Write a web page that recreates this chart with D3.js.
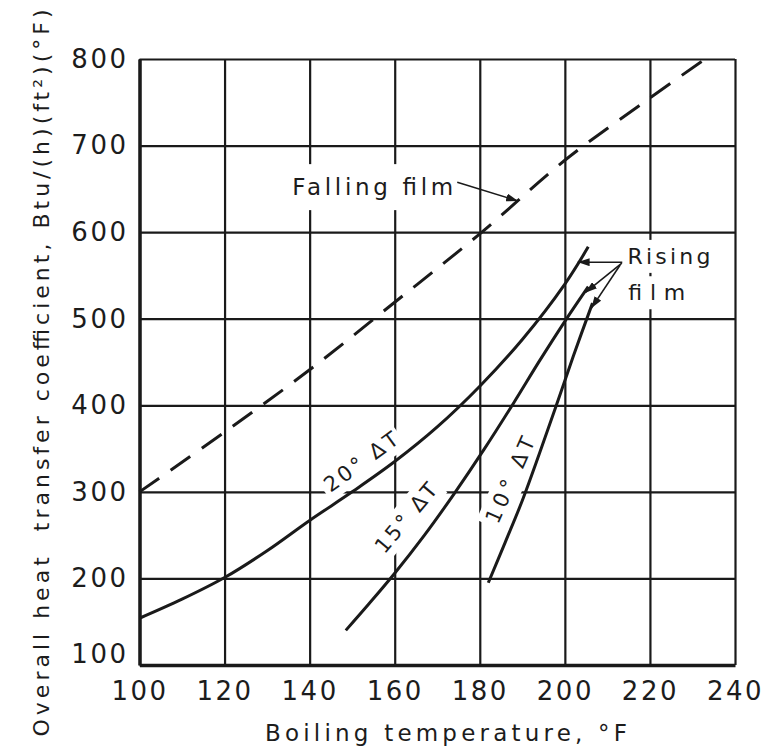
<!DOCTYPE html>
<html><head><meta charset="utf-8">
<script src="https://cdn.jsdelivr.net/npm/d3@7"></script>
<style>
html,body{margin:0;padding:0;background:#fff;}
svg{display:block;}
text{font-family:"DejaVu Sans",sans-serif;fill:#1c1c1c;}
</style></head><body>
<svg id="chart" width="781" height="749"></svg>
<script>
// ---- data ----
const xTicks = [100, 120, 140, 160, 180, 200, 220, 240];
const yTicks = [100, 200, 300, 400, 500, 600, 700, 800];
const fallingTemp = [100, 120, 140, 160, 180, 200, 220, 233];
const fallingCoef = [300, 369, 441, 519, 598, 683, 755, 800];
const dt20Temp = [100, 110, 120, 130, 140, 150, 160, 170, 180, 190, 200, 205.5];
const dt20Coef = [154, 176, 201, 232, 267, 300, 335, 375, 422, 476, 540, 583];
const dt15Temp = [148.5, 154, 160, 167, 174, 181, 188, 194, 200, 205.5];
const dt15Coef = [140, 171, 206, 250, 298, 349, 403, 451, 497, 537];
const dt10Temp = [182, 186, 190, 194, 198, 202, 206.5];
const dt10Coef = [195, 242, 290, 344, 400, 457, 518];
const curveLabels = ["20° ΔT", "15° ΔT", "10° ΔT"];

const svg = d3.select("#chart");
const L = 139.5, R = 735, T = 59, B = 665;
const x = d3.scaleLinear().domain([100, 240]).range([L, R]);
const y = d3.scaleLinear().domain([100, 800]).range([B, T]);
const ink = "#1a1a1a";

// ---- grid + axes ----
const gx = svg.append("g").attr("transform", `translate(0,${B})`)
  .call(d3.axisBottom(x).tickValues(xTicks).tickSizeInner(-(B - T)).tickSizeOuter(0)
    .tickPadding(17).tickFormat(d3.format("d")));
const gy = svg.append("g").attr("transform", `translate(${L},0)`)
  .call(d3.axisLeft(y).tickValues(yTicks).tickSizeInner(-(R - L)).tickSizeOuter(0)
    .tickPadding(11).tickFormat(d3.format("d")));
[gx, gy].forEach(g => {
  g.attr("font-family", "DejaVu Sans, sans-serif").attr("font-size", 26);
  g.selectAll(".tick line").attr("stroke", ink).attr("stroke-width", 2.2);
  g.selectAll(".tick text").attr("fill", "#222").attr("letter-spacing", 2.5);
  g.select(".domain").attr("stroke", ink).attr("stroke-width", 3.5);
});
gy.selectAll(".tick text").filter(d => d === 100).attr("dy", "-0.1em");

// axis titles
svg.append("text").attr("x", 446).attr("y", 741).attr("text-anchor", "middle")
  .attr("font-size", 23).attr("textLength", 362).attr("lengthAdjust", "spacing")
  .text("Boiling temperature, °F");
svg.append("g").attr("transform", "translate(41,373) rotate(-90)")
  .append("text").attr("text-anchor", "middle").attr("dominant-baseline", "central")
  .attr("font-size", 22).attr("textLength", 727).attr("lengthAdjust", "spacing")
  .style("white-space", "pre")
  .text("Overall heat  transfer coefficient, Btu/(h)(ft²)(°F)");

// ---- label helper with white knock-out box (breaks the grid like the original) ----
const knock = svg.append("g");
const labelsG = svg.append("g");
function label(cx, cy, angle, txt, size, len, padX, padY, anchor) {
  const g = labelsG.append("g").attr("transform", `translate(${cx},${cy}) rotate(${angle})`);
  const t = g.append("text").attr("text-anchor", anchor || "middle")
    .attr("dominant-baseline", "central").attr("font-size", size).text(txt);
  if (len) t.attr("textLength", len).attr("lengthAdjust", "spacing");
  const b = t.node().getBBox();
  knock.append("rect").attr("transform", `translate(${cx},${cy}) rotate(${angle})`)
    .attr("x", b.x - padX).attr("y", b.y - padY)
    .attr("width", b.width + 2 * padX).attr("height", b.height + 2 * padY)
    .attr("fill", "#fff");
}

// ---- curves ----
const line = d3.line().x(d => x(d[0])).y(d => y(d[1])).curve(d3.curveCatmullRom.alpha(0.5));
const curvesG = svg.append("g");
curvesG.append("path").datum(d3.zip(fallingTemp, fallingCoef)).attr("d", line)
  .attr("fill", "none").attr("stroke", ink).attr("stroke-width", 3)
  .attr("stroke-dasharray", "24,14");
[[dt20Temp, dt20Coef], [dt15Temp, dt15Coef], [dt10Temp, dt10Coef]].forEach(([t, c]) => {
  curvesG.append("path").datum(d3.zip(t, c)).attr("d", line)
    .attr("fill", "none").attr("stroke", ink).attr("stroke-width", 3);
});

// curve labels
label(x(152.1), y(334.4), -36, curveLabels[0], 21, 86, 4, 3);
label(x(162.7), y(269.7), -50, curveLabels[1], 21, 84, 4, 3);
label(x(187.2), y(313.6), -66, curveLabels[2], 21, 92, 4, 3);

// annotations
label(x(135.9), y(652), 0, "Falling film", 23, 161, 6, 10, "start");
label(x(214.7), y(572), 0, "Rising", 22, 83, 3, 4, "start");
label(x(214.9), y(530), 0, "film", 22, 57, 3, 4, "start");

const defs = svg.append("defs");
defs.append("marker").attr("id", "ah").attr("viewBox", "0 0 12 8")
  .attr("refX", 12).attr("refY", 4).attr("markerWidth", 12).attr("markerHeight", 8)
  .attr("markerUnits", "userSpaceOnUse").attr("orient", "auto")
  .append("path").attr("d", "M0,0 L12,4 L0,8 Z").attr("fill", ink);

const arrows = [
  [[174.7, 657.7], [189, 636]],
  [[213.5, 565.3], [203.0, 565.3]],
  [[213.4, 564.2], [204.8, 530]],
  [[213.0, 562.0], [206.2, 512]]
];
const ag = svg.append("g");
arrows.forEach(([a, b]) => {
  ag.append("line").attr("x1", x(a[0])).attr("y1", y(a[1]))
    .attr("x2", x(b[0])).attr("y2", y(b[1]))
    .attr("stroke", ink).attr("stroke-width", 1.6).attr("marker-end", "url(#ah)");
});
</script>
</body></html>
